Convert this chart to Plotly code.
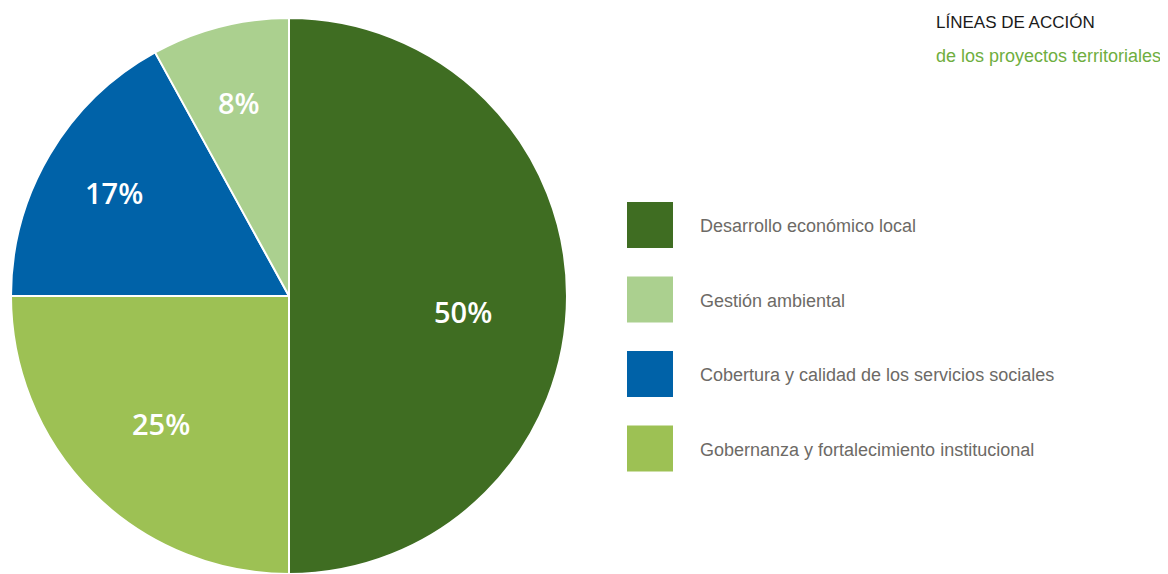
import math
import plotly.graph_objects as go

# Data (slice order clockwise from 12 o'clock)
categories = ["Desarrollo económico local", "Gobernanza y fortalecimiento institucional",
              "Cobertura y calidad de los servicios sociales", "Gestión ambiental"]
values = [50, 25, 17, 8]
colors = ["#3f6d22", "#9dc154", "#0062a8", "#abd08f"]

legend_order = ["Desarrollo económico local", "Gestión ambiental",
                "Cobertura y calidad de los servicios sociales",
                "Gobernanza y fortalecimiento institucional"]

title_line1 = "LÍNEAS DE ACCIÓN"
title_line2 = "de los proyectos territoriales"

# style: label placement (fraction of radius, angular nudge in degrees)
label_radius = [0.63, 0.65, 0.73, 0.72]
label_nudge = [5, 0, 0, 0]

# The page body adds an 8px offset; work in screen pixels and convert.
OFF = 8
W, H = 1168 - OFF, 574 - OFF


def px(x):
    return (x - OFF) / W


def py(y):
    return 1 - (y - OFF) / H


# pie geometry in screen pixels
top = 18
R = (H - (top - OFF)) / 2.0
CX, CY = 289, top + R

fig = go.Figure()
fig.add_trace(go.Pie(
    labels=categories, values=values, sort=False, direction="clockwise", rotation=0,
    marker=dict(colors=colors, line=dict(color="white", width=2)),
    textinfo="none",
    domain=dict(x=[px(CX - R), px(CX + R)], y=[0, py(top)]),
    showlegend=False, hoverinfo="label+percent",
))

annotations = []
total = sum(values)
cum = 0
for v, fr, nd in zip(values, label_radius, label_nudge):
    mid = (cum + v / 2) / total * 2 * math.pi + math.radians(nd)
    cum += v
    x = CX + fr * R * math.sin(mid)
    y = CY - fr * R * math.cos(mid)
    annotations.append(dict(text=f"{v}%", xref="paper", yref="paper", x=px(x), y=py(y),
                            xanchor="center", yanchor="middle", showarrow=False,
                            font=dict(family="Open Sans", size=29, color="white", weight=600)))

shapes = []
col_map = dict(zip(categories, colors))
fam = "Liberation Sans, Arial, sans-serif"
for i, name in enumerate(legend_order):
    y0 = 202 + i * 74.5
    shapes.append(dict(type="rect", xref="paper", yref="paper",
                       x0=px(627), x1=px(673), y0=py(y0 + 46), y1=py(y0),
                       fillcolor=col_map[name], line=dict(width=0)))
    annotations.append(dict(text=name, xref="paper", yref="paper",
                            x=px(698), y=py(y0 + 24), xanchor="left", yanchor="middle",
                            showarrow=False,
                            font=dict(family=fam, size=18, color="#6d6a66")))

annotations.append(dict(text=title_line1, xref="paper", yref="paper", x=px(934), y=py(23),
                        xanchor="left", yanchor="middle", showarrow=False,
                        font=dict(family=fam, size=17, color="#1a1a1a")))
annotations.append(dict(text=title_line2, xref="paper", yref="paper", x=px(934), y=py(56),
                        xanchor="left", yanchor="middle", showarrow=False,
                        font=dict(family=fam, size=18, color="#6fae40")))

fig.update_layout(width=W, height=H, margin=dict(l=0, r=0, t=0, b=0),
                  paper_bgcolor="white", plot_bgcolor="white",
                  shapes=shapes, annotations=annotations)

fig.write_html("out.html")
